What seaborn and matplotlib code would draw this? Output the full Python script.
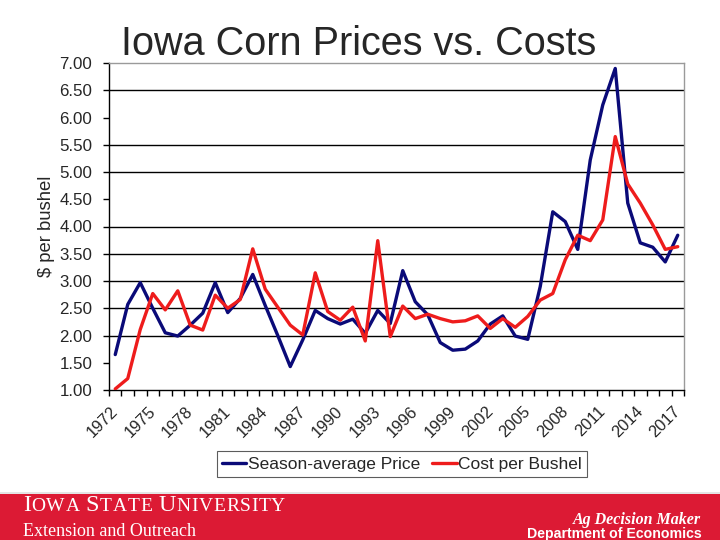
# Iowa corn prices vs. costs, 1972-2017

import pandas as pd
import matplotlib
matplotlib.use("Agg")
import matplotlib.pyplot as plt
import matplotlib.transforms as mtransforms
import seaborn as sns
from matplotlib.offsetbox import TextArea, HPacker, AnchoredOffsetbox
from matplotlib.patches import Rectangle

years = list(range(1972, 2018))
price = [1.65, 2.57, 2.97, 2.50, 2.05, 1.99, 2.19, 2.41, 2.97, 2.42,
         2.68, 3.12, 2.55, 2.00, 1.43, 1.92, 2.46, 2.31, 2.21, 2.30,
         2.04, 2.46, 2.22, 3.19, 2.62, 2.38, 1.87, 1.73, 1.75, 1.90,
         2.21, 2.36, 1.99, 1.93, 2.90, 4.27, 4.09, 3.58, 5.22, 6.23,
         6.90, 4.43, 3.70, 3.62, 3.35, 3.84]
cost = [1.02, 1.21, 2.11, 2.77, 2.47, 2.82, 2.19, 2.10, 2.74, 2.50,
        2.66, 3.59, 2.85, 2.52, 2.19, 2.01, 3.15, 2.44, 2.28, 2.52,
        1.90, 3.74, 1.98, 2.54, 2.31, 2.39, 2.31, 2.25, 2.27, 2.36,
        2.13, 2.31, 2.15, 2.35, 2.65, 2.77, 3.39, 3.84, 3.74, 4.12,
        5.65, 4.78, 4.43, 4.03, 3.58, 3.63]
series_names = ["Season-average Price", "Cost per Bushel"]
series_colors = ["#0A0A78", "#EE1C1C"]
grid_levels = [2.0, 2.5, 3.0, 3.5, 4.0, 5.0, 5.5, 6.5]

pos = list(range(len(years)))
df = pd.DataFrame({
    "pos": pos + pos,
    "value": price + cost,
    "series": [series_names[0]] * len(years) + [series_names[1]] * len(years),
})

sns.set_style("white")
plt.rcParams["font.family"] = ["Liberation Sans", "DejaVu Sans"]

fig = plt.figure(figsize=(7.2, 5.4), dpi=100)
ax = fig.add_axes([109 / 720, 1 - 390 / 540, 575 / 720, 327 / 540])

for g in grid_levels:
    ax.axhline(g, color="black", linewidth=1.0, zorder=1)

sns.lineplot(data=df, x="pos", y="value", hue="series",
             palette=dict(zip(series_names, series_colors)),
             linewidth=2.4, ax=ax, zorder=3)

ax.set_xlim(-0.5, len(years) - 0.5)
ax.set_ylim(1.0, 7.0)
ax.set_yticks([1.0 + 0.5 * k for k in range(13)])
ax.set_yticklabels([f"{1.0 + 0.5 * k:.2f}" for k in range(13)], fontsize=12.2)
ax.set_xticks(pos[::3])
ax.set_xticklabels([str(y) for y in years[::3]], rotation=45, ha="right",
                   va="top", rotation_mode="anchor", fontsize=11.8)
ax.set_xticks([p - 0.5 for p in pos] + [pos[-1] + 0.5], minor=True)
ax.tick_params(axis="x", which="major", length=0, pad=10)
ax.tick_params(axis="x", which="minor", length=4, width=1, color="black",
               direction="out", bottom=True)
ax.tick_params(axis="y", length=4, width=1, color="black", direction="out",
               left=True, pad=8)
shift = mtransforms.ScaledTranslation(-5 / 100, 0, fig.dpi_scale_trans)
for lab in ax.get_xticklabels():
    lab.set_transform(lab.get_transform() + shift)
ax.set_xlabel("")
ax.set_ylabel("$ per bushel", fontsize=13.3, labelpad=3)

for side in ["left", "bottom"]:
    ax.spines[side].set_color("black")
    ax.spines[side].set_linewidth(1.0)
for side in ["top", "right"]:
    ax.spines[side].set_color("#9A9A9A")
    ax.spines[side].set_linewidth(1.0)

handles, labels = ax.get_legend_handles_labels()
ax.legend(handles, labels, ncol=2, loc="center",
          bbox_to_anchor=(402 / 720, 1 - 464 / 540),
          bbox_transform=fig.transFigure, frameon=True, fancybox=False,
          edgecolor="#333333", fontsize=12.5, handlelength=1.4,
          handletextpad=0.1, columnspacing=0.7, borderpad=0.3)
ax.get_legend().get_frame().set_linewidth(0.8)

fig.text(359 / 720, 1 - 55 / 540, "Iowa Corn Prices vs. Costs",
         fontsize=28.5, ha="center", va="baseline")

# footer band
fig.patches.append(Rectangle((0, 0), 1, 46 / 540, transform=fig.transFigure,
                             facecolor="#DC1A34", edgecolor="none", zorder=0))
fig.patches.append(Rectangle((0, 46 / 540), 1, 2 / 540,
                             transform=fig.transFigure, facecolor="#E4E4E4",
                             edgecolor="none", zorder=0))

# small-caps wordmark, one letter per box so it can be letter-spaced
big = dict(family="Liberation Serif", size=17.5, color="white")
small = dict(family="Liberation Serif", size=14, color="white")
words = ["IOWA", "STATE", "UNIVERSITY"]
letters = []
for w in words:
    for i, ch in enumerate(w):
        letters.append(TextArea(ch, textprops=big if i == 0 else small))
    if w != words[-1]:
        letters.append(TextArea(" ", textprops=small))
pack = HPacker(children=letters, align="baseline", pad=0, sep=0.5)
box = AnchoredOffsetbox(loc="lower left", child=pack, pad=0, frameon=False,
                        bbox_to_anchor=(23 / 720, 1 - 516 / 540),
                        bbox_transform=fig.transFigure, borderpad=0)
fig.add_artist(box)
fig.text(23 / 720, 1 - 536 / 540, "Extension and Outreach",
         family="Liberation Serif", fontsize=13, color="white", va="baseline")
fig.text(701 / 720, 1 - 524 / 540, "Ag Decision Maker",
         family="Liberation Serif", style="italic", weight="bold",
         fontsize=11.5, color="white", ha="right", va="baseline")
fig.text(702 / 720, 1 - 538 / 540, "Department of Economics",
         fontsize=10.2, weight="bold", color="white", ha="right",
         va="baseline")

fig.savefig("out.png", dpi=100)
